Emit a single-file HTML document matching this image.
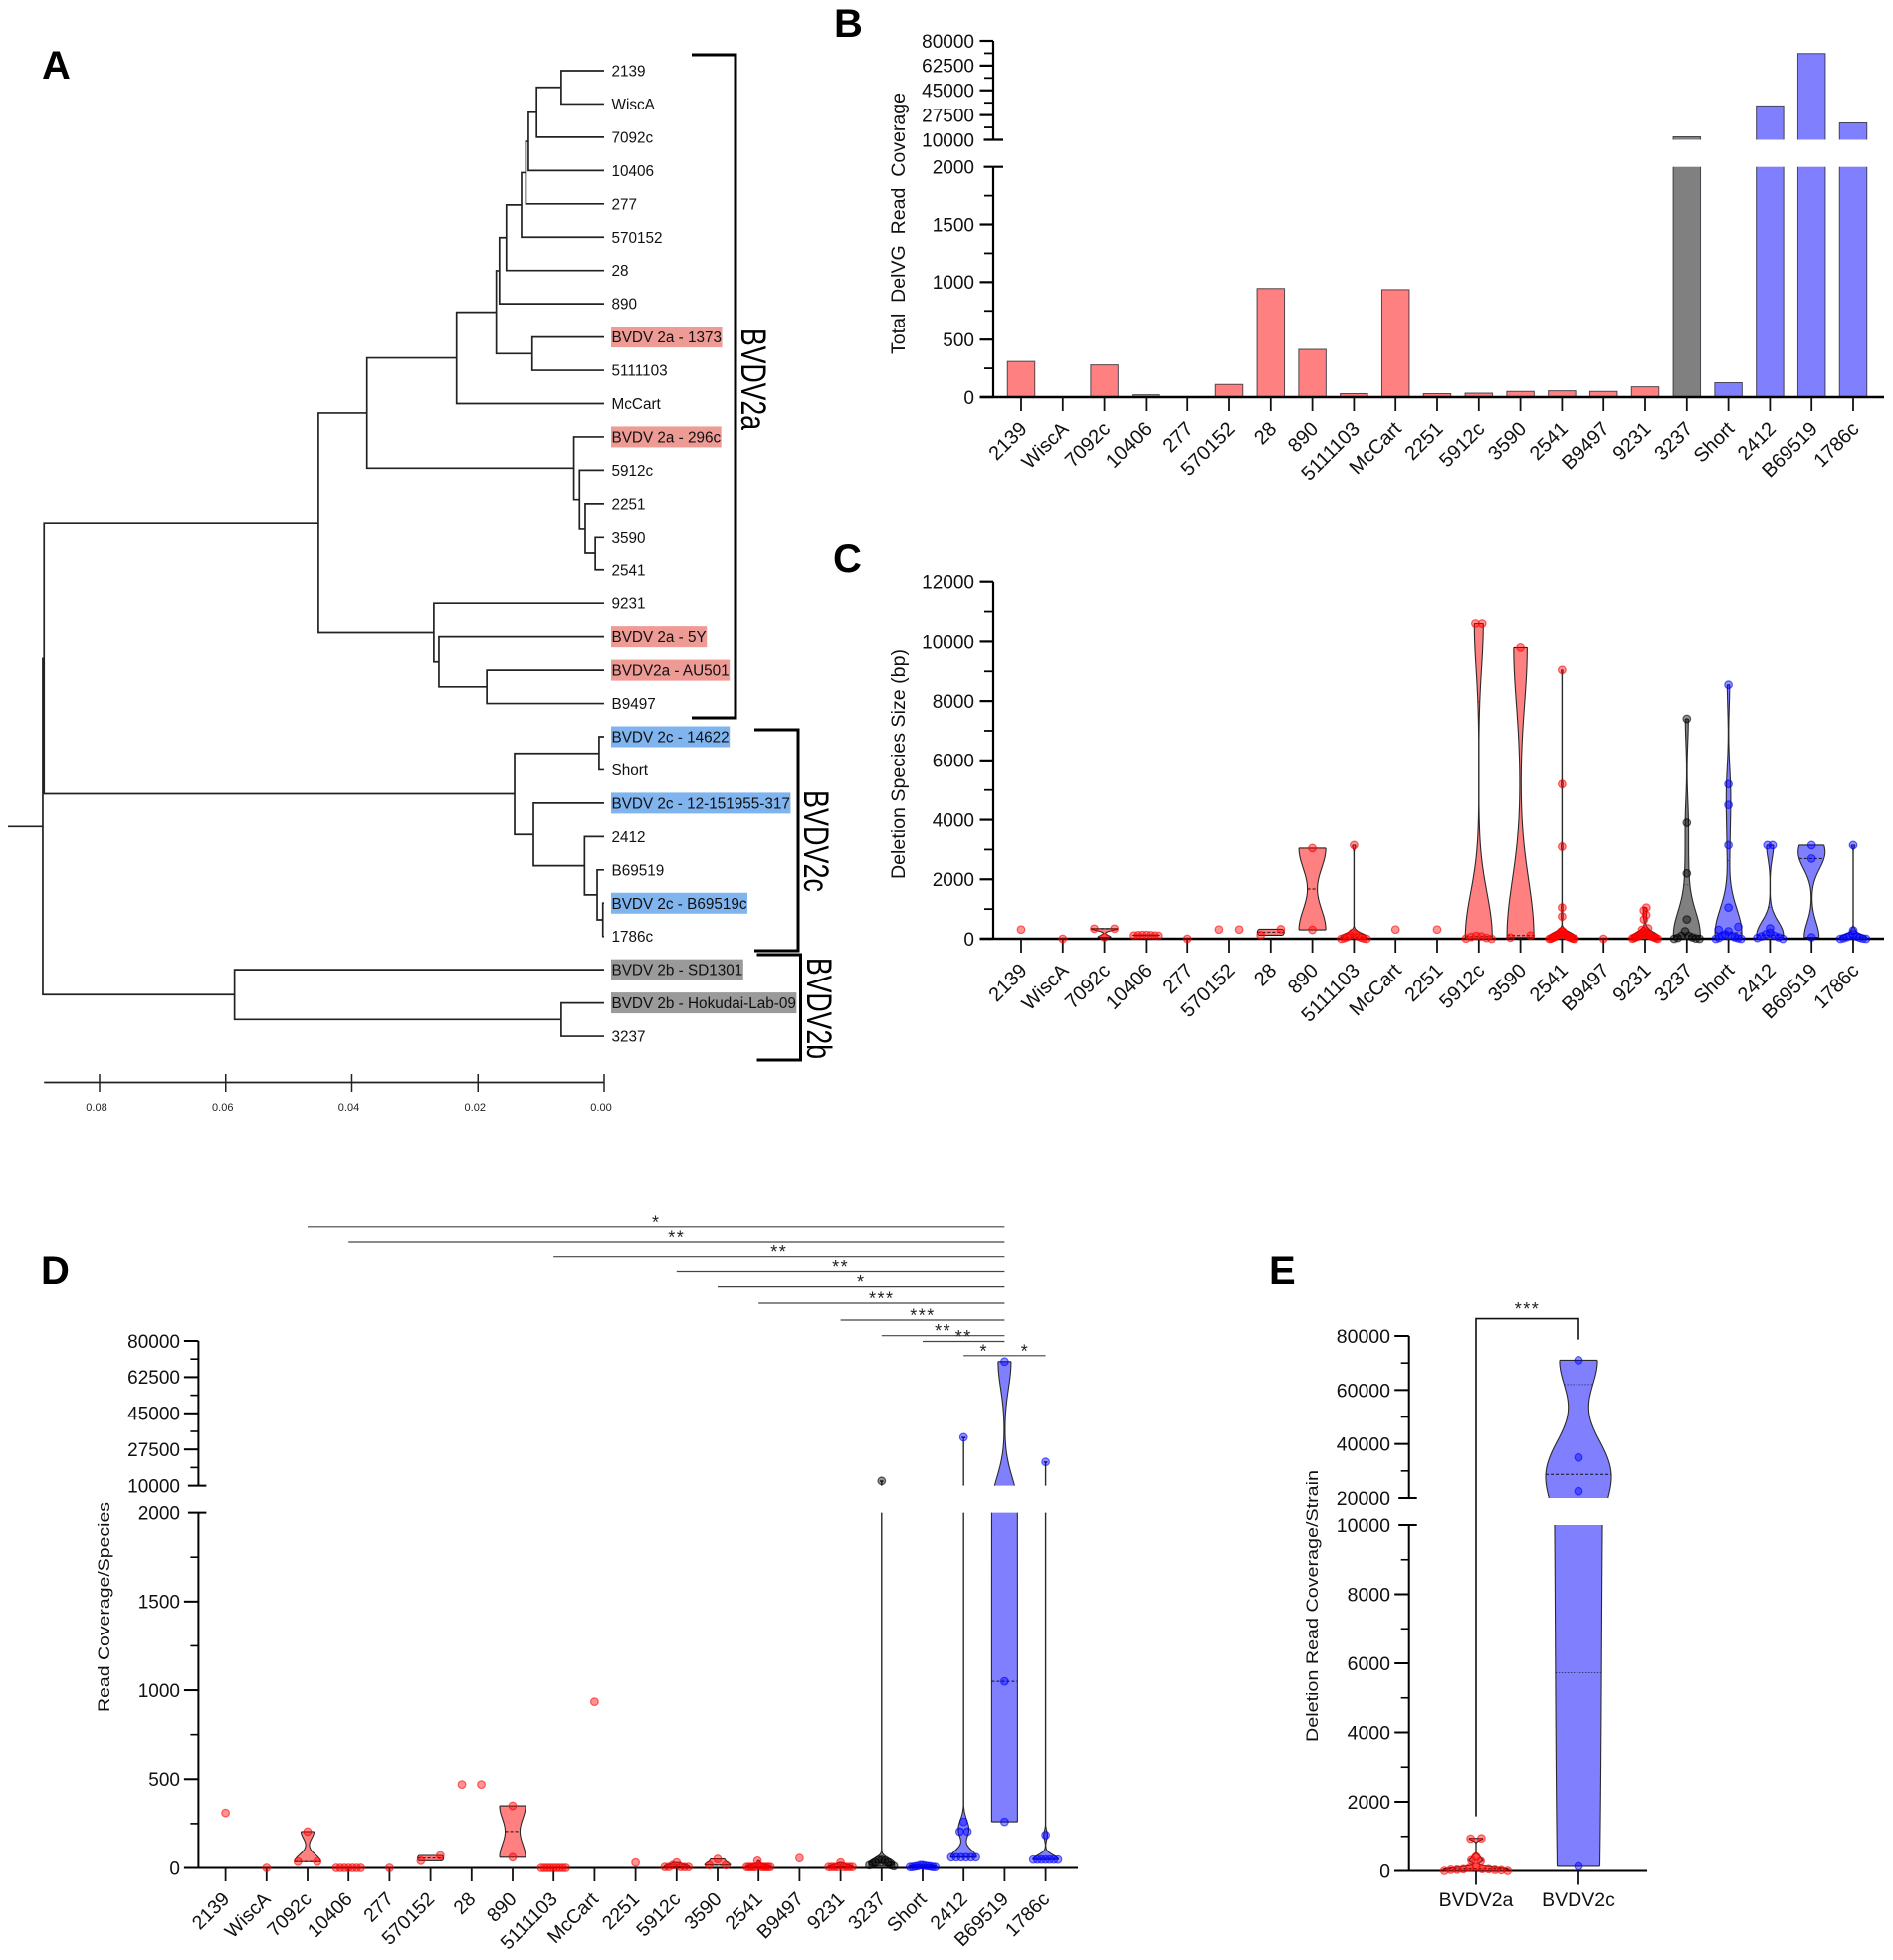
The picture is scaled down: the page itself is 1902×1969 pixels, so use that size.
<!DOCTYPE html>
<html lang="en">
<head>
<meta charset="utf-8">
<title>BVDV2 phylogeny and DelVG coverage</title>
<style>
html,body{margin:0;padding:0;background:#fff;}
svg{display:block;font-family:"Liberation Sans",Arial,sans-serif;}
</style>
</head>
<body>
<svg id="figure" xmlns="http://www.w3.org/2000/svg" width="1902" height="1969" viewBox="0 0 1902 1969">
  <rect x="0" y="0" width="1902" height="1969" fill="#fff"/>
  <g font-weight="700" font-size="40" fill="#000">
    <text x="42" y="79">A</text>
    <text x="838" y="37">B</text>
    <text x="837" y="575">C</text>
    <text x="41" y="1290">D</text>
    <text x="1275" y="1290">E</text>
  </g>
  <g fill="none" stroke="#000" stroke-width="3">
    <path d="M695 55H739V721H695"/>
    <path d="M758 733H802V955H758"/>
    <path d="M760.5 959H804.5V1065H760.5"/>
  </g>
  <g font-size="35" fill="#000">
    <text transform="translate(745,330) rotate(90)" textLength="102" lengthAdjust="spacingAndGlyphs">BVDV2a</text>
    <text transform="translate(808,794) rotate(90)" textLength="102" lengthAdjust="spacingAndGlyphs">BVDV2c</text>
    <text transform="translate(811,962) rotate(90)" textLength="102" lengthAdjust="spacingAndGlyphs">BVDV2b</text>
  </g>
  <g fill="#111">
    <text font-size="19" transform="translate(909,356) rotate(-90)" textLength="263" lengthAdjust="spacingAndGlyphs">Total&#160; DelVG&#160; Read&#160; Coverage</text>
    <text font-size="19" transform="translate(909,883) rotate(-90)" textLength="231" lengthAdjust="spacingAndGlyphs">Deletion Species Size (bp)</text>
    <text font-size="17" transform="translate(110,1720) rotate(-90)" textLength="211" lengthAdjust="spacingAndGlyphs">Read Coverage/Species</text>
    <text font-size="17" transform="translate(1324,1750) rotate(-90)" textLength="273" lengthAdjust="spacingAndGlyphs">Deletion Read Coverage/Strain</text>
  </g>
  <g id="panel-a"></g>
  <g id="panel-b"></g>
  <g id="panel-c"></g>
  <g id="panel-d"></g>
  <g id="panel-e"></g>
</svg>
<script>
/* ---------- data ---------- */
const categories = ["2139","WiscA","7092c","10406","277","570152","28","890","5111103","McCart","2251","5912c","3590","2541","B9497","9231","3237","Short","2412","B69519","1786c"];
const categoryClades = ["a","a","a","a","a","a","a","a","a","a","a","a","a","a","a","a","b","c","c","c","c"];

/* Panel A: tree nodes are [height, child, child]; leaves are names */
const treeData = [0.0890,
  [0.0888,
    [0.0453,
      [0.0376,
        [0.0234,
          [0.0171,
            [0.0166,
              [0.0155,
                [0.0131,
                  [0.0124,
                    [0.0120,
                      [0.0107, [0.0068,"2139","WiscA"], "7092c"],
                      "10406"],
                    "277"],
                  "570152"],
                "28"],
              "890"],
            [0.0114,"BVDV 2a - 1373","5111103"]],
          "McCart"],
        [0.0048,"BVDV 2a - 296c",[0.0039,"5912c",[0.0030,"2251",[0.0014,"3590","2541"]]]]],
      [0.0270,"9231",[0.0262,"BVDV 2a - 5Y",[0.0186,"BVDV2a - AU501","B9497"]]]],
    [0.0142,
      [0.0008,"BVDV 2c - 14622","Short"],
      [0.0112,"BVDV 2c - 12-151955-317",
        [0.0031,"2412",[0.0011,"B69519",[0.0002,"BVDV 2c - B69519c","1786c"]]]]]],
  [0.0586,"BVDV 2b - SD1301",[0.0068,"BVDV 2b - Hokudai-Lab-09","3237"]]];
const treeRedLabels = ["BVDV 2a - 1373","BVDV 2a - 296c","BVDV 2a - 5Y","BVDV2a - AU501"];
const treeBlueLabels = ["BVDV 2c - 14622","BVDV 2c - 12-151955-317","BVDV 2c - B69519c"];
const treeGrayLabels = ["BVDV 2b - SD1301","BVDV 2b - Hokudai-Lab-09"];
const treeScaleTicks = [0.08,0.06,0.04,0.02,0.00];

/* Panel B */
const totalCoverage = [310,0,280,20,0,110,945,415,30,935,30,35,50,55,50,90,12100,125,34000,71000,22000];
const bTicksLower = [0,500,1000,1500,2000];
const bTicksUpper = [10000,27500,45000,62500,80000];

/* Panel C */
const cTicks = [0,2000,4000,6000,8000,10000,12000];
const speciesSize = [
  [310],
  [0],
  [340,340,50],
  [130,120,110,130,100,110,120],
  [0],
  [310,310],
  [320,120],
  [3050,300],
  [3150,200,150,110,80,60,40,20,10,0,0],
  [310],
  [310],
  [10600,10600,100,80,60,30,10,0],
  [9800,110,40],
  [9050,5200,3100,1050,750,250,250,200,180,150,130,120,100,100,80,70,60,50,40,30,20,10,10,0,0],
  [0],
  [1050,950,800,650,350,300,250,200,180,150,140,120,110,100,90,80,70,60,50,40,30,20,10,0],
  [7400,3900,2200,650,250,100,100,50,30,10,0,0],
  [8550,5200,4500,3150,1050,400,300,250,150,100,100,50,30,20,0,0],
  [3150,3150,350,200,150,100,80,50,30,0],
  [3150,2700,50],
  [3150,280,150,100,80,60,40,20,10,0,0]
];
const speciesBandwidth = [1,1,60,30,1,1,120,750,100,1,1,1500,1900,100,1,100,800,800,450,500,80];

/* Panel D */
const dTicksLower = [0,500,1000,1500,2000];
const dTicksUpper = [10000,27500,45000,62500,80000];
const speciesCoverage = [
  [310],
  [0],
  [205,35,35],
  [0,0,0,0,0,0,0],
  [0],
  [70,40],
  [470,470],
  [350,60],
  [0,0,0,0,0,0,0,0,0],
  [935],
  [30],
  [30,15,5,5,5,5,5],
  [50,15,15],
  [40,10,5,5,5,5,5,5,5,5,5,5],
  [55],
  [30,5,5,5,5,5,5,5,5],
  [12300,45,45,40,30,30,20,15,15,10],
  [15,15,12,10,10,8,8,5,5,5,5],
  [33400,260,205,205,60,60,60,60,60,60],
  [70000,1050,260],
  [21500,185,47,47,47,47,47,47,47]
];
const coverageBandwidth = [1,1,40,1,1,30,1,92,1,1,1,10,15,10,1,10,20,5,40,13000,25];
const sigFrom = ["7092c","10406","5111103","5912c","3590","2541","9231","3237","Short","2412","B69519"];
const sigTo = ["B69519","B69519","B69519","B69519","B69519","B69519","B69519","B69519","B69519","B69519","1786c"];
const sigStars = ["*","**","**","**","*","***","***","**","**","*","*"];

/* Panel E */
const eCategories = ["BVDV2a","BVDV2c"];
const eClades = ["a","c"];
const strainCoverageA = [310,0,280,20,0,110,945,415,30,935,30,35,50,55,50,90];
const strainCoverageC = [71000,35000,22500,130];
const eBandwidths = [50,11000];
const eTicksLower = [0,2000,4000,6000,8000,10000];
const eTicksUpper = [20000,40000,60000,80000];
const eStars = "***";

/* ---------- helpers ---------- */
const NS = "http://www.w3.org/2000/svg";
function add(parent, tag, attrs) {
  const n = document.createElementNS(NS, tag);
  for (const k in attrs) n.setAttribute(k, attrs[k]);
  parent.appendChild(n);
  return n;
}
const slug = s => String(s).toLowerCase().replace(/[^a-z0-9]+/g, "-");
const cladeFill = {a:"#ff8080", b:"#808080", c:"#8080ff"};
const cladePoint = {a:"255,0,0", b:"0,0,0", c:"0,0,255"};

function makeScale(segs) {
  return function (v) {
    for (const s of segs) {
      if (v <= s.hi) {
        const t = (v - s.lo) / (s.hi - s.lo);
        return s.bottom + (s.top - s.bottom) * t;
      }
    }
    const l = segs[segs.length - 1];
    return l.top;
  };
}

function yAxis(g, segs, cfg) {
  const scale = makeScale(segs);
  segs.forEach((s, si) => {
    const line = add(g, "line", {x1:cfg.x, x2:cfg.x, y1:s.top, y2:s.bottom, stroke:"#000", "stroke-width":cfg.w});
    
    
    const ticks = s.ticks;
    ticks.forEach((tv, i) => {
      const y = scale(tv);
      const isBreak = segs.length > 1 && ((si === 0 && i === ticks.length - 1) || (si === 1 && i === 0));
      const tick = add(g, "line", {
        x1: isBreak ? cfg.x - cfg.major + 4 : cfg.x - cfg.major,
        x2: isBreak ? cfg.x + cfg.breakOut : cfg.x,
        y1: y, y2: y, stroke:"#000", "stroke-width":cfg.w
      });
      
      
      const lab = add(g, "text", {x:cfg.labelX, y:y, dy:"0.36em", "text-anchor":"end", "font-size":cfg.font, fill:"#111"});
      lab.textContent = tv;
      
      
      if (i < ticks.length - 1) {
        const my = scale((tv + ticks[i + 1]) / 2);
        const minor = add(g, "line", {x1:cfg.x - cfg.minor, x2:cfg.x, y1:my, y2:my, stroke:"#000", "stroke-width":cfg.w * 0.8});
        
        
      }
    });
  });
  return scale;
}

function xAxis(g, cfg, labels, xOf) {
  const base = add(g, "line", {x1:cfg.x0, x2:cfg.x1, y1:cfg.y, y2:cfg.y, stroke:"#000", "stroke-width":cfg.w});
  
  
  labels.forEach((c, i) => {
    const x = xOf(i);
    const t = add(g, "line", {x1:x, x2:x, y1:cfg.y, y2:cfg.tickEnd, stroke:"#111", "stroke-width":1.8});
    
    
    const lab = add(g, "text", {"font-size":cfg.font, fill:"#111"});
    if (cfg.rotate) {
      lab.setAttribute("text-anchor", "end");
      lab.setAttribute("transform", "translate(" + (x + cfg.dx) + "," + cfg.labelY + ") rotate(-45)");
    } else {
      lab.setAttribute("text-anchor", "middle");
      lab.setAttribute("x", x);
      lab.setAttribute("y", cfg.labelY);
    }
    lab.textContent = c;
    
    
  });
}

function percentile(sorted, p) {
  const pos = (sorted.length + 1) * p - 1;
  const lo = Math.max(0, Math.floor(pos));
  const hi = Math.min(sorted.length - 1, lo + 1);
  const f = Math.min(1, Math.max(0, pos - lo));
  return sorted[lo] + (sorted[hi] - sorted[lo]) * f;
}

function distribution(g, cat, clade, cx, vals, sigma, segs, scale, maxHw) {
  const sorted = vals.slice().sort((a, b) => a - b);
  const min = sorted[0], max = sorted[sorted.length - 1];
  const hasViolin = vals.length > 1 && max > min;
  const dens = v => vals.reduce((acc, p) => acc + Math.exp(-0.5 * Math.pow((v - p) / sigma, 2)), 0);
  let norm = 1;
  if (hasViolin) {
    norm = 0;
    segs.forEach(s => {
      const lo = Math.max(s.lo, min), hi = Math.min(s.hi, max);
      if (lo >= hi) return;
      const n = Math.max(2, Math.ceil(scale(lo) - scale(hi)));
      for (let i = 0; i <= n; i++) norm = Math.max(norm, dens(lo + (hi - lo) * i / n));
    });
  }
  const hwAt = v => hasViolin ? Math.max(0.15, dens(v) / norm * maxHw) : maxHw;

  if (hasViolin) {
    segs.forEach(s => {
      const lo = Math.max(s.lo, min), hi = Math.min(s.hi, max);
      if (lo >= hi) return;
      const n = Math.max(2, Math.ceil(scale(lo) - scale(hi)));
      const left = [], right = [];
      for (let i = 0; i <= n; i++) {
        const v = lo + (hi - lo) * i / n;
        const h = hwAt(v), y = scale(v);
        left.push((cx - h).toFixed(2) + " " + y.toFixed(2));
        right.push((cx + h).toFixed(2) + " " + y.toFixed(2));
      }
      const body = add(g, "path", {d:"M" + left.join("L") + "L" + right.slice().reverse().join("L") + "Z", fill:cladeFill[clade], stroke:"none"});
      
      
      let d = "M" + left.join("L") + "M" + right.join("L");
      if (lo === min) d += "M" + left[0] + "L" + right[0];
      if (hi === max) d += "M" + left[n] + "L" + right[n];
      const outline = add(g, "path", {d:d, fill:"none", stroke:"#2a2a2a", "stroke-width":1.1});
      
      
    });
    [[0.25, false], [0.5, true], [0.75, false]].forEach(q => {
      const v = percentile(sorted, q[0]);
      const inSeg = segs.some(s => v >= s.lo && v <= s.hi);
      if (!inSeg) return;
      const h = hwAt(v), y = scale(v);
      const line = add(g, "line", {x1:cx - h, x2:cx + h, y1:y, y2:y, stroke:"#111",
        "stroke-width": q[1] ? 1 : 0.6, "stroke-dasharray": q[1] ? "3 2" : "1.5 1.5"});
      
      
    });
  }

  /* bin neighbouring values, then spread them across the local violin width;
     larger bins place their highest values nearest the centre */
  const bins = [];
  sorted.forEach(v => {
    const last = bins[bins.length - 1];
    if (last && Math.abs(scale(v) - scale(last[0])) < 8) last.push(v);
    else bins.push([v]);
  });
  bins.forEach(bin => {
    const n = bin.length;
    const mean = bin.reduce((a, b) => a + b, 0) / n;
    const h = hwAt(mean);
    const f = n <= 3 ? 0.75 : 0.95;
    const slots = [];
    for (let i = 0; i < n; i++) slots.push(i);
    slots.sort((p, q) => Math.abs(p - (n - 1) / 2) - Math.abs(q - (n - 1) / 2));
    const ordered = n >= 3 ? bin.slice().reverse() : bin;
    ordered.forEach((v, k) => {
      const i = n >= 3 ? slots[k] : k;
      const off = n === 1 ? 0 : (i / (n - 1) * 2 - 1) * h * f;
      const dot = add(g, "circle", {cx:cx + off, cy:scale(v), r:3.8,
        fill:"rgba(" + cladePoint[clade] + ",0.42)", stroke:"rgba(" + cladePoint[clade] + ",0.6)", "stroke-width":1.2});
      
      
    });
  });
}

/* ---------- panel A ---------- */
(function () {
  const g = document.getElementById("panel-a");
  const xTree = h => 607 - 6337.5 * h;
  const tipY = i => 71 + 33.45 * i;
  let tipIndex = 0;
  const leaves = [];
  const segments = [];
  function layout(node) {
    if (typeof node === "string") {
      const y = tipY(tipIndex++);
      leaves.push({name:node, y:y});
      return {x:xTree(0), y:y};
    }
    const a = layout(node[1]);
    const b = layout(node[2]);
    const x = xTree(node[0]);
    const y = (a.y + b.y) / 2;
    segments.push("M" + a.x + " " + a.y + "H" + x + "V" + b.y + "H" + b.x);
    return {x:x, y:y};
  }
  const root = layout(treeData);
  segments.push("M8 " + root.y + "H" + root.x);
  const tree = add(g, "path", {d:segments.join(""), fill:"none", stroke:"#222", "stroke-width":1.7});
  
  
  leaves.forEach(l => {
    const col = treeRedLabels.includes(l.name) ? "#ee9a95" : treeBlueLabels.includes(l.name) ? "#7fb4ef" : treeGrayLabels.includes(l.name) ? "#9a9a9a" : null;
    let rect = null;
    if (col) {
      rect = add(g, "rect", {x:614, y:l.y - 10.5, height:21, width:100, fill:col});
      
      
    }
    const t = add(g, "text", {x:614.5, y:l.y, dy:"0.36em", "font-size":15.3, fill:"#111"});
    t.textContent = l.name;
    
    
    if (rect) rect.setAttribute("width", t.getComputedTextLength() + 1);
  });
  const scaleLine = add(g, "line", {x1:xTree(0.0888), x2:xTree(0), y1:1087.5, y2:1087.5, stroke:"#222", "stroke-width":1.7});
  
  
  treeScaleTicks.forEach(v => {
    const x = xTree(v);
    const tick = add(g, "line", {x1:x, x2:x, y1:1079, y2:1097, stroke:"#222", "stroke-width":1.5});
    
    
    const lab = add(g, "text", {x:x - 3, y:1116, "text-anchor":"middle", "font-size":11, fill:"#222"});
    lab.textContent = v.toFixed(2);
    
    
  });
})();

/* ---------- panel B ---------- */
(function () {
  const g = document.getElementById("panel-b");
  const segs = [
    {lo:0, hi:2000, bottom:399, top:167.7, ticks:bTicksLower},
    {lo:10000, hi:80000, bottom:140.5, top:41, ticks:bTicksUpper}
  ];
  const xOf = i => 1026 + 41.8 * i;
  const scale = makeScale(segs);
  const barW = 27.5;
  totalCoverage.forEach((v, i) => {
    const x = xOf(i) - barW / 2;
    const clade = categoryClades[i];
    segs.forEach(s => {
      if (v <= s.lo) return;
      const top = scale(Math.min(v, s.hi));
      const bar = add(g, "rect", {x:x, y:top, width:barW, height:s.bottom - top, fill:cladeFill[clade]});
      
      
      const isEnd = v <= s.hi;
      const edge = add(g, "path", {
        d:"M" + x + " " + s.bottom + "V" + top + (isEnd ? "H" + (x + barW) : "M" + (x + barW) + " " + top) + "V" + s.bottom,
        fill:"none", stroke:"rgba(30,30,40,0.75)", "stroke-width":1
      });
      
      
    });
  });
  yAxis(g, segs, {x:998, w:2.2, major:13.5, minor:9, breakOut:10, labelX:979, font:19});
  xAxis(g, {x0:984.5, x1:1893, y:399, w:2.6, tickEnd:413, labelY:432, dx:7, font:20, rotate:true}, categories, xOf);
})();

/* ---------- panel C ---------- */
(function () {
  const g = document.getElementById("panel-c");
  const segs = [{lo:0, hi:12000, bottom:943, top:584.7, ticks:cTicks}];
  const xOf = i => 1026 + 41.8 * i;
  const scale = makeScale(segs);
  yAxis(g, segs, {x:998, w:2.2, major:13.5, minor:9, breakOut:0, labelX:979, font:19});
  xAxis(g, {x0:984.5, x1:1893, y:943, w:2.6, tickEnd:957, labelY:976, dx:7, font:20, rotate:true}, categories, xOf);
  speciesSize.forEach((vals, i) => {
    distribution(g, categories[i], categoryClades[i], xOf(i), vals, speciesBandwidth[i], segs, scale, 13.5);
  });
})();

/* ---------- panel D ---------- */
(function () {
  const g = document.getElementById("panel-d");
  const segs = [
    {lo:0, hi:2000, bottom:1876.5, top:1519.6, ticks:dTicksLower},
    {lo:10000, hi:80000, bottom:1492.6, top:1347, ticks:dTicksUpper}
  ];
  const xOf = i => 226.6 + 41.2 * i;
  const scale = makeScale(segs);
  yAxis(g, segs, {x:199.4, w:2, major:14.5, minor:8, breakOut:8, labelX:181, font:19});
  xAxis(g, {x0:185, x1:1083, y:1876.5, w:2, tickEnd:1890, labelY:1909, dx:5, font:19.5, rotate:true}, categories, xOf);
  speciesCoverage.forEach((vals, i) => {
    distribution(g, categories[i], categoryClades[i], xOf(i), vals, coverageBandwidth[i], segs, scale, 13);
  });
  const sigTopY = 1232.8;
  sigFrom.forEach((from, i) => {
    const x1 = xOf(categories.indexOf(from));
    const x2 = xOf(categories.indexOf(sigTo[i]));
    const steps = [0, 15.2, 29.9, 44.7, 59.8, 76.2, 93.2, 108.9, 114.7, 129, 129];
    const y = sigTopY + steps[i];
    const line = add(g, "line", {x1:x1, x2:x2, y1:y, y2:y, stroke:"#444", "stroke-width":1.2});
    
    
    const star = add(g, "text", {x:(x1 + x2) / 2, y:y + 1.5, "text-anchor":"middle", "font-size":18, "letter-spacing":1.5, fill:"#222"});
    star.textContent = sigStars[i];
    
    
  });
})();

/* ---------- panel E ---------- */
(function () {
  const g = document.getElementById("panel-e");
  const segs = [
    {lo:0, hi:10000, bottom:1879.5, top:1532, ticks:eTicksLower},
    {lo:20000, hi:80000, bottom:1505, top:1342, ticks:eTicksUpper}
  ];
  const xOf = i => 1483 + 103 * i;
  const scale = makeScale(segs);
  yAxis(g, segs, {x:1415.7, w:2, major:14.5, minor:8, breakOut:8, labelX:1397, font:19.5});
  xAxis(g, {x0:1401, x1:1655, y:1879.5, w:2, tickEnd:1893.5, labelY:1915, dx:0, font:19.5, rotate:false}, eCategories, xOf);
  [strainCoverageA, strainCoverageC].forEach((vals, i) => {
    distribution(g, eCategories[i], eClades[i], xOf(i), vals, eBandwidths[i], segs, scale, 33);
  });
  const bracket = add(g, "path", {d:"M" + xOf(0) + " 1824.6V1324.6H" + xOf(1) + "V1345.6", fill:"none", stroke:"#111", "stroke-width":1.6});
  
  
  const star = add(g, "text", {x:(xOf(0) + xOf(1)) / 2, y:1321, "text-anchor":"middle", "font-size":18, "letter-spacing":1.5, fill:"#222"});
  star.textContent = eStars;
  
  
})();
</script>
</body>
</html>
